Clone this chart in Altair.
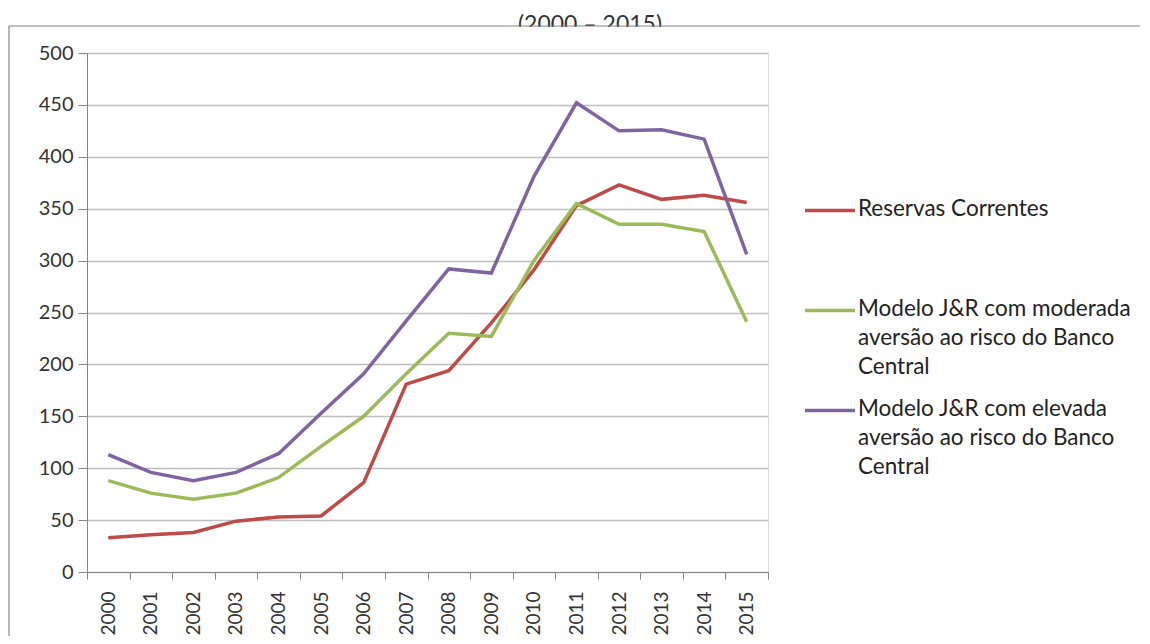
import altair as alt
import pandas as pd

years = [str(y) for y in range(2000, 2016)]
reservas = [33, 36, 38, 49, 53, 54, 86, 181, 194, 240, 291, 353, 373, 359, 363, 356]
moderada = [88, 76, 70, 76, 91, 121, 150, 191, 230, 227, 300, 355, 335, 335, 328, 241]
elevada = [113, 96, 88, 96, 114, 153, 191, 242, 292, 288, 381, 452, 425, 426, 417, 306]
series = [
    "Reservas Correntes",
    "Modelo J&R com moderada aversão ao risco do Banco Central",
    "Modelo J&R com elevada aversão ao risco do Banco Central",
]
legend_lines = [
    ["Reservas Correntes"],
    ["Modelo J&R com moderada", "aversão ao risco do Banco", "Central"],
    ["Modelo J&R com elevada", "aversão ao risco do Banco", "Central"],
]
colors = ["#BE4B48", "#9BBB59", "#8064A2"]
title_text = "(2000 – 2015)"
y_ticks = list(range(0, 501, 50))

FONT = "Lato"

rows = []
for s, vals in zip(series, [reservas, moderada, elevada]):
    for yr, v in zip(years, vals):
        rows.append({"Ano": yr, "Valor": v, "Serie": s})
df = pd.DataFrame(rows)
one = pd.DataFrame({"k": [0]})

W, H = 681, 519

lines = alt.Chart(df).mark_line(strokeWidth=3.5).encode(
    x=alt.X("Ano:O", sort=years,
            scale=alt.Scale(type="band", paddingInner=0, paddingOuter=0),
            axis=alt.Axis(title=None, labelAngle=-90, labelAlign="right", labelBaseline="middle",
                          tickBand="extent", tickSize=7, labelPadding=12,
                          labelFont=FONT, labelFontSize=19, labelColor="#333333",
                          domainColor="#868686", tickColor="#868686", grid=False)),
    y=alt.Y("Valor:Q", scale=alt.Scale(domain=[0, 500], nice=False),
            axis=alt.Axis(title=None, values=y_ticks, tickSize=9, labelPadding=5,
                          labelFont=FONT, labelFontSize=20, labelColor="#333333",
                          domainColor="#868686", tickColor="#868686",
                          gridColor="#BEBEBE", gridWidth=1.5)),
    color=alt.Color("Serie:N", sort=series,
                    scale=alt.Scale(domain=series, range=colors), legend=None),
    detail="Serie:N",
)

title = alt.Chart(one).mark_text(font=FONT, fontSize=23, color="#333333",
                                 baseline="top", align="center").encode(
    x=alt.value(503), y=alt.value(-39), text=alt.value(title_text))

cover = alt.Chart(one).mark_rect(fill="white").encode(
    x=alt.value(-78), x2=alt.value(1040), y=alt.value(-26), y2=alt.value(-12))

frame_top = alt.Chart(one).mark_rule(stroke="#868686", strokeWidth=1.2).encode(
    x=alt.value(-78), x2=alt.value(1060), y=alt.value(-27))
frame_left = alt.Chart(one).mark_rule(stroke="#868686", strokeWidth=1.2).encode(
    x=alt.value(-78), y=alt.value(-27), y2=alt.value(600))

legend_layers = []
sym_y = [157.6, 257.6, 357.6]
for name, lbl, col, yy in zip(series, legend_lines, colors, sym_y):
    legend_layers.append(
        alt.Chart(one).mark_rule(strokeWidth=3.5, color=col).encode(
            x=alt.value(718), x2=alt.value(768), y=alt.value(yy)))
    legend_layers.append(
        alt.Chart(one).mark_text(font=FONT, fontSize=22.5, color="#222222", align="left",
                                 baseline="top", lineHeight=29).encode(
            x=alt.value(771), y=alt.value(yy - 13), text=alt.value(lbl)))

chart = alt.layer(title, cover, frame_top, frame_left, lines, *legend_layers).properties(
    width=W, height=H,
    autosize=alt.AutoSizeParams(type="none"),
    padding={"left": 79, "top": 45, "right": 372, "bottom": 64},
).configure_view(stroke=None).configure(background="white")

chart.save("out.html", embed_options={"renderer": "svg", "actions": False})
